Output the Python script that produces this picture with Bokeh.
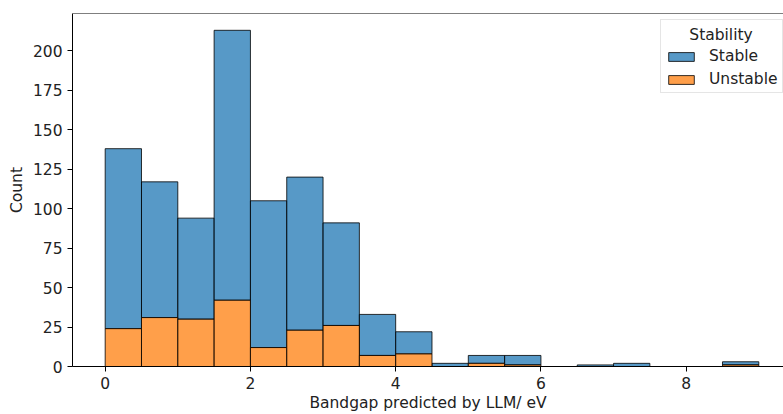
from bokeh.plotting import figure
from bokeh.models import Legend, LegendItem, Span, ColumnDataSource, Label
from bokeh.embed import file_html
from bokeh.resources import INLINE
import numpy as np

# Histogram bins (eV), width 0.5
bin_left = [0.0, 0.5, 1.0, 1.5, 2.0, 2.5, 3.0, 3.5, 4.0, 4.5, 5.0, 5.5, 6.0, 6.5, 7.0, 7.5, 8.0, 8.5]
bin_right = [0.5, 1.0, 1.5, 2.0, 2.5, 3.0, 3.5, 4.0, 4.5, 5.0, 5.5, 6.0, 6.5, 7.0, 7.5, 8.0, 8.5, 9.0]
unstable = [24, 31, 30, 42, 12, 23, 26, 7, 8, 0, 2, 1, 0, 0, 0, 0, 0, 1]
stable = [114, 86, 64, 171, 93, 97, 65, 26, 14, 2, 5, 6, 0, 1, 2, 0, 0, 2]
x_ticks = [0, 2, 4, 6, 8]
y_ticks = [0, 25, 50, 75, 100, 125, 150, 175, 200]

u = np.array(unstable, dtype=float)
s = np.array(stable, dtype=float)
total = u + s
ytop = total.max() * 1.05

FONT = "DejaVu Sans"
FS = "15.5px"
TXT = "#222222"
BLUE = "#1f77b4"
ORANGE = "#ff7f0e"

p = figure(width=783, height=414, x_range=(-0.45, 9.34), y_range=(0, ytop),
           output_backend="svg", toolbar_location=None,
           min_border_left=72, min_border_right=0, min_border_top=13, min_border_bottom=48)
p.outline_line_color = None
p.xgrid.visible = False
p.ygrid.visible = False
p.background_fill_color = "white"
p.border_fill_color = "white"

src_u = ColumnDataSource(dict(left=bin_left, right=bin_right, bottom=np.zeros_like(u), top=u))
src_s = ColumnDataSource(dict(left=bin_left, right=bin_right, bottom=u, top=total))

r_s = p.quad(left="left", right="right", bottom="bottom", top="top", source=src_s,
             fill_color=BLUE, fill_alpha=0.75, line_color="black", line_alpha=0.8, line_width=1)
r_u = p.quad(left="left", right="right", bottom="bottom", top="top", source=src_u,
             fill_color=ORANGE, fill_alpha=0.75, line_color="black", line_alpha=0.8, line_width=1)

# top spine
p.add_layout(Span(location=ytop, dimension="width", line_color="black", line_width=1))

for ax in (p.xaxis[0], p.yaxis[0]):
    ax.major_label_text_font = FONT
    ax.major_label_text_font_size = FS
    ax.major_label_text_color = TXT
    ax.axis_label_text_font = FONT
    ax.axis_label_text_font_size = FS
    ax.axis_label_text_font_style = "normal"
    ax.axis_label_text_color = TXT
    ax.major_tick_out = 5
    ax.major_tick_in = 0
    ax.minor_tick_out = 0
    ax.minor_tick_in = 0
    ax.major_label_standoff = 5
    ax.axis_line_color = "black"
    ax.major_tick_line_color = "black"

p.xaxis.ticker = x_ticks
p.yaxis.ticker = y_ticks
p.xaxis.axis_label = "Bandgap predicted by LLM/ eV"
p.yaxis.axis_label = "Count"
p.xaxis.axis_label_standoff = 2
p.yaxis.axis_label_standoff = 4

legend = Legend(items=[LegendItem(label="Stable", renderers=[r_s]),
                       LegendItem(label="Unstable", renderers=[r_u])],
                location=(588, 273), title="\u00a0")
legend.title_text_font = FONT
legend.title_text_font_size = FS
legend.title_standoff = 5
legend.label_text_font = FONT
legend.label_text_font_size = FS
legend.label_text_color = TXT
legend.label_height = 18
legend.glyph_width = 32
legend.glyph_height = 11
legend.label_standoff = 12
legend.spacing = 5
legend.padding = 4
legend.margin = 0
legend.border_line_color = "#cccccc"
legend.border_line_width = 1
legend.background_fill_alpha = 0.0
p.add_layout(legend)

p.add_layout(Label(x=648.5, y=332, x_units="screen", y_units="screen", text="Stability",
                   text_font=FONT, text_font_size=FS, text_color=TXT,
                   text_align="center", text_baseline="middle", level="overlay"))

open("out.html", "w").write(file_html(p, INLINE))
